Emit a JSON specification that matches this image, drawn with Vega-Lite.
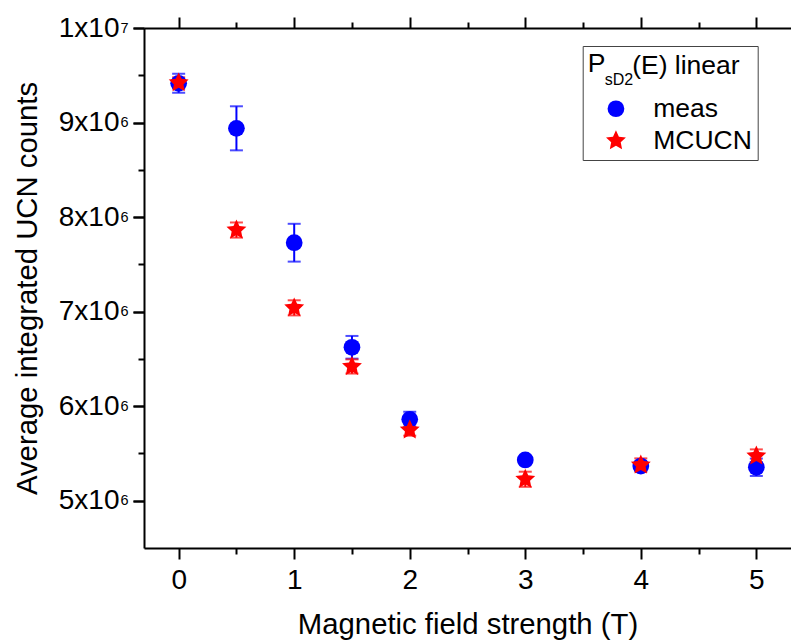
{
  "$schema": "https://vega.github.io/schema/vega-lite/v6.json",
  "width": 647,
  "height": 520,
  "autosize": {"type": "none"},
  "padding": {"left": 144, "top": 28, "right": 0, "bottom": 92},
  "background": "white",
  "config": {
    "font": "Liberation Sans",
    "view": {"stroke": null},
    "axis": {
      "grid": false,
      "domainColor": "black",
      "tickColor": "black",
      "labelColor": "black",
      "titleColor": "black",
      "domainWidth": 2,
      "tickWidth": 2,
      "labelFont": "Liberation Sans",
      "titleFont": "Liberation Sans",
      "titleFontWeight": "normal",
      "labelFlush": false,
      "labelOverlap": false
    },
    "legend": {
      "titleFont": "Liberation Sans",
      "labelFont": "Liberation Sans",
      "titleFontSize": 26.5,
      "titleFontWeight": "normal",
      "titleColor": "black",
      "labelFontSize": 26.5,
      "labelColor": "black",
      "padding": 5,
      "strokeColor": "#444444",
      "symbolSize": 280,
      "symbolStrokeWidth": 0,
      "symbolOffset": 15,
      "labelOffset": 24,
      "rowPadding": 5,
      "titlePadding": 18
    }
  },
  "data": {
    "values": [
      {"series": "meas", "B": 0, "counts": 9415000, "lo": 9315000, "hi": 9515000},
      {"series": "meas", "B": 0.5, "counts": 8939000, "lo": 8706000, "hi": 9172000},
      {"series": "meas", "B": 1, "counts": 7729000, "lo": 7529000, "hi": 7929000},
      {"series": "meas", "B": 1.5, "counts": 6623000, "lo": 6503000, "hi": 6743000},
      {"series": "meas", "B": 2, "counts": 5861000, "lo": 5781000, "hi": 5941000},
      {"series": "meas", "B": 3, "counts": 5431000, "lo": 5391000, "hi": 5471000},
      {"series": "meas", "B": 4, "counts": 5367000, "lo": 5322000, "hi": 5412000},
      {"series": "meas", "B": 5, "counts": 5354000, "lo": 5262000, "hi": 5446000},
      {"series": "MCUCN", "B": 0, "counts": 9420000, "lo": 9360000, "hi": 9480000},
      {"series": "MCUCN", "B": 0.5, "counts": 7863000, "lo": 7783000, "hi": 7943000},
      {"series": "MCUCN", "B": 1, "counts": 7040000, "lo": 6960000, "hi": 7120000},
      {"series": "MCUCN", "B": 1.5, "counts": 6420000, "lo": 6345000, "hi": 6495000},
      {"series": "MCUCN", "B": 2, "counts": 5748000, "lo": 5688000, "hi": 5808000},
      {"series": "MCUCN", "B": 3, "counts": 5227000, "lo": 5147000, "hi": 5307000},
      {"series": "MCUCN", "B": 4, "counts": 5378000, "lo": 5308000, "hi": 5448000},
      {"series": "MCUCN", "B": 5, "counts": 5473000, "lo": 5403000, "hi": 5543000}
    ]
  },
  "layer": [
    {
      "mark": {"type": "rule", "strokeWidth": 2},
      "encoding": {
        "x": {
          "field": "B", "type": "quantitative",
          "scale": {"domain": [-0.3, 5.3], "nice": false, "zero": false},
          "axis": {
            "orient": "bottom", "values": [0, 1, 2, 3, 4, 5], "format": "d",
            "tickSize": 11, "labelFontSize": 28, "labelPadding": 7,
            "title": "Magnetic field strength (T)", "titleFontSize": 29.3, "titlePadding": 16,
            "domain": true
          }
        },
        "y": {
          "field": "lo", "type": "quantitative",
          "scale": {"domain": [4500000, 10000000], "nice": false, "zero": false},
          "axis": {
            "orient": "left",
            "values": [5000000, 6000000, 7000000, 8000000, 9000000, 10000000],
            "labelExpr": "datum.value >= 9999999 ? '1x10' : format(datum.value / 1000000, 'd') + 'x10'",
            "tickSize": 11, "labelFontSize": 28, "labelPadding": 14, "labelDy": 2,
            "title": "Average integrated UCN counts", "titleFontSize": 29.3, "titlePadding": 16,
            "domain": true
          }
        },
        "y2": {"field": "hi"},
        "stroke": {
          "field": "series", "type": "nominal",
          "scale": {"domain": ["MCUCN", "meas"], "range": ["#ff0000", "#0000ff"]},
          "legend": null
        }
      }
    },
    {
      "mark": {"type": "tick", "orient": "horizontal", "size": 13, "thickness": 2},
      "encoding": {
        "x": {
          "field": "B", "type": "quantitative",
          "scale": {"domain": [-0.3, 5.3], "nice": false, "zero": false},
          "axis": {"orient": "top", "values": [0, 1, 2, 3, 4, 5], "tickSize": 11, "labels": false, "title": null, "domain": true}
        },
        "y": {
          "field": "lo", "type": "quantitative",
          "scale": {"domain": [4500000, 10000000], "nice": false, "zero": false},
          "axis": {
            "orient": "left",
            "values": [5000000, 6000000, 7000000, 8000000, 9000000, 10000000],
            "labelExpr": "datum.value >= 9999999 ? '7' : '6'",
            "tickSize": 11, "labelFontSize": 14.5, "labelPadding": 5, "labelDy": -4.5,
            "title": null, "domain": false
          }
        },
        "fill": {
          "field": "series", "type": "nominal",
          "scale": {"domain": ["MCUCN", "meas"], "range": ["#ff0000", "#0000ff"]},
          "legend": null
        }
      }
    },
    {
      "mark": {"type": "tick", "orient": "horizontal", "size": 13, "thickness": 2},
      "encoding": {
        "x": {
          "field": "B", "type": "quantitative",
          "scale": {"domain": [-0.3, 5.3], "nice": false, "zero": false},
          "axis": {"orient": "bottom", "values": [0.5, 1.5, 2.5, 3.5, 4.5], "tickSize": 6, "labels": false, "title": null, "domain": false}
        },
        "y": {
          "field": "hi", "type": "quantitative",
          "scale": {"domain": [4500000, 10000000], "nice": false, "zero": false},
          "axis": {
            "orient": "left",
            "values": [5500000, 6500000, 7500000, 8500000, 9500000],
            "tickSize": 6, "labels": false, "title": null, "domain": false
          }
        },
        "fill": {
          "field": "series", "type": "nominal",
          "scale": {"domain": ["MCUCN", "meas"], "range": ["#ff0000", "#0000ff"]},
          "legend": null
        }
      }
    },
    {
      "mark": {"type": "point", "filled": true, "opacity": 1, "size": 280},
      "encoding": {
        "x": {
          "field": "B", "type": "quantitative",
          "scale": {"domain": [-0.3, 5.3], "nice": false, "zero": false},
          "axis": {"orient": "top", "values": [0.5, 1.5, 2.5, 3.5, 4.5], "tickSize": 6, "labels": false, "title": null, "domain": false}
        },
        "y": {
          "field": "counts", "type": "quantitative",
          "scale": {"domain": [4500000, 10000000], "nice": false, "zero": false},
          "axis": null
        },
        "color": {
          "field": "series", "type": "nominal",
          "scale": {"domain": ["meas", "MCUCN"], "range": ["#0000ff", "#ff0000"]},
          "legend": {"title": "P", "orient": "none", "legendX": 438.7, "legendY": 18}
        },
        "shape": {
          "field": "series", "type": "nominal",
          "scale": {
            "domain": ["meas", "MCUCN"],
            "range": ["circle", "M0,-1.25L0.3527,-0.4854L1.1888,-0.3863L0.5706,0.1854L0.7347,1.0113L0,0.6L-0.7347,1.0113L-0.5706,0.1854L-1.1888,-0.3863L-0.3527,-0.4854Z"]
          },
          "legend": {"title": "P", "orient": "none", "legendX": 438.7, "legendY": 18}
        }
      }
    },
    {
      "data": {"values": [{}]},
      "mark": {"type": "text", "text": "sD2", "fontSize": 16, "align": "left", "baseline": "alphabetic", "font": "Liberation Sans", "color": "black"},
      "encoding": {
        "x": {"datum": 3.687, "type": "quantitative", "scale": {"domain": [-0.3, 5.3], "nice": false, "zero": false}, "axis": null},
        "y": {"datum": 9397000, "type": "quantitative", "scale": {"domain": [4500000, 10000000], "nice": false, "zero": false}, "axis": null}
      }
    },
    {
      "data": {"values": [{}]},
      "mark": {"type": "text", "text": "(E) linear", "fontSize": 26.5, "align": "left", "baseline": "alphabetic", "font": "Liberation Sans", "color": "black"},
      "encoding": {
        "x": {"datum": 3.925, "type": "quantitative", "scale": {"domain": [-0.3, 5.3], "nice": false, "zero": false}, "axis": null},
        "y": {"datum": 9513000, "type": "quantitative", "scale": {"domain": [4500000, 10000000], "nice": false, "zero": false}, "axis": null}
      }
    }
  ],
  "resolve": {"axis": {"x": "independent", "y": "independent"}}
}
